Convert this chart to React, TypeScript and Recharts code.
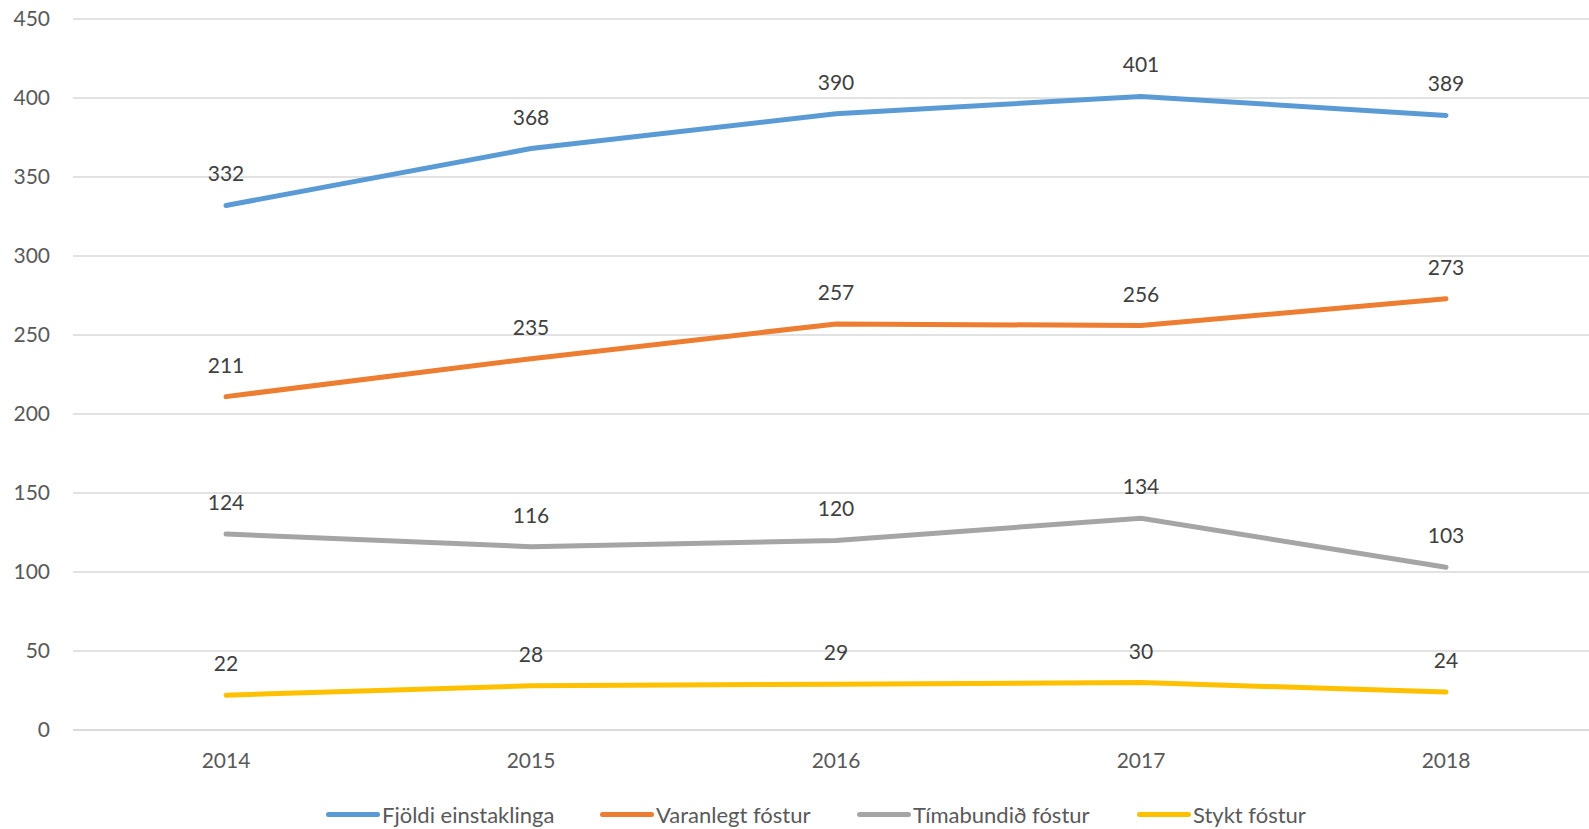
import { CartesianGrid, LabelList, Legend, Line, LineChart, XAxis, YAxis } from "recharts";

const years = ["2014", "2015", "2016", "2017", "2018"];
const fjoldi = [332, 368, 390, 401, 389];
const varanlegt = [211, 235, 257, 256, 273];
const timabundid = [124, 116, 120, 134, 103];
const stykt = [22, 28, 29, 30, 24];
const yTicks = [0, 50, 100, 150, 200, 250, 300, 350, 400, 450];

const series = [
  { key: "fjoldi", name: "Fjöldi einstaklinga", color: "#5B9BD5", width: 274 },
  { key: "varanlegt", name: "Varanlegt fóstur", color: "#ED7D31", width: 257 },
  { key: "timabundid", name: "Tímabundið fóstur", color: "#A5A5A5", width: 280 },
  { key: "stykt", name: "Stykt fóstur", color: "#FFC000", width: 200 },
];

const data = years.map((year, i) => ({
  year,
  fjoldi: fjoldi[i],
  varanlegt: varanlegt[i],
  timabundid: timabundid[i],
  stykt: stykt[i],
}));

const FONT = "Lato, 'Liberation Sans', sans-serif";

function ChartLegend() {
  return (
    <div style={{ display: "flex", alignItems: "center", height: 59, marginLeft: 326, fontFamily: FONT, fontSize: 22, color: "#595959" }}>
      {series.map((s) => (
        <div key={s.key} style={{ display: "flex", alignItems: "center", width: s.width, position: "relative", top: 15 }}>
          <div style={{ width: 54, height: 5, borderRadius: 3, backgroundColor: s.color, marginRight: 2 }} />
          <span style={{ whiteSpace: "nowrap" }}>{s.name}</span>
        </div>
      ))}
    </div>
  );
}

export default function App() {
  return (
    <div style={{ position: "absolute", left: 0, top: 0, width: 1589, height: 829, overflow: "hidden", background: "#fff" }}>
      <LineChart width={1589} height={829} data={data} margin={{ top: 19, right: 0, bottom: 0, left: 0 }}>
        <CartesianGrid horizontal vertical={false} stroke="#D9D9D9" strokeWidth={1.5} />
        <XAxis
          dataKey="year"
          height={40}
          padding={{ left: 153, right: 143 }}
          axisLine={{ stroke: "#D9D9D9", strokeWidth: 1.5 }}
          tickLine={false}
          tickSize={0}
          tickMargin={23}
          tick={{ fill: "#595959", fontSize: 21, fontFamily: FONT }}
        />
        <YAxis
          width={73}
          domain={[0, 450]}
          ticks={yTicks}
          axisLine={false}
          tickLine={false}
          tickSize={0}
          tickMargin={23}
          tick={{ fill: "#595959", fontSize: 21, fontFamily: FONT }}
        />
        <Legend verticalAlign="bottom" content={() => <ChartLegend />} wrapperStyle={{ height: 59 }} />
        {series.map((s) => (
          <Line
            key={s.key}
            dataKey={s.key}
            name={s.name}
            stroke={s.color}
            strokeWidth={5}
            strokeLinecap="round"
            dot={false}
            activeDot={false}
            isAnimationActive={false}
          >
            <LabelList dataKey={s.key} position="top" offset={24} fill="#404040" fontSize={21} fontFamily={FONT} />
          </Line>
        ))}
      </LineChart>
    </div>
  );
}
